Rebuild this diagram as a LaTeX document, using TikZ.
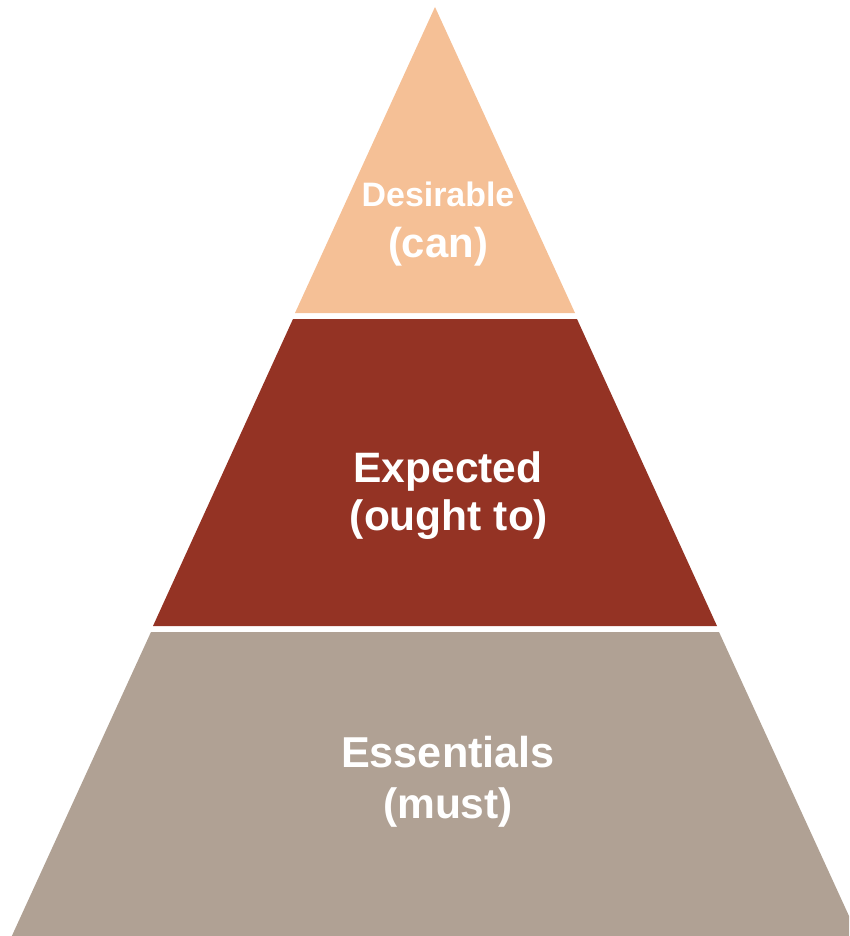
\documentclass[tikz,border=0pt]{standalone}
\usepackage{fontspec}
\setmainfont{Liberation Sans}
\definecolor{canpeach}{RGB}{245,192,150}
\definecolor{oughtred}{RGB}{148,51,36}
\definecolor{mustgrey}{RGB}{176,161,148}
\tikzset{
	tiertext/.style={text=white, font=\bfseries, anchor=base, inner sep=0pt}
}
\def\px#1{\fontsize{#1}{#1}\selectfont}

\begin{document}
\begin{tikzpicture}[x=0.02cm, y=-0.02cm]
		%%%%% START %%%%%
		
		\useasboundingbox (0, 0) rectangle (849, 936);
		\clip (0, 0) rectangle (849, 936);
		
		\draw[fill=canpeach, draw=none] (435, 7) -- (575, 313) -- (295, 313) -- cycle;
		\draw[fill=oughtred, draw=none] (293, 319) -- (577, 319) -- (717, 626) -- (153, 626) -- cycle;
		\draw[fill=mustgrey, draw=none] (151, 632) -- (719, 632) -- (860, 940) -- (10, 940) -- cycle;
		
		\node[tiertext, font=\bfseries\px{19.3pt}] (desirable) at (438, 206) {Desirable};
		\node[tiertext, font=\bfseries\px{23.8pt}] (can) at (438, 257) {(can)};
		
		\node[tiertext, font=\bfseries\px{24.2pt}] (expected) at (448, 482) {Expected};
		\node[tiertext, font=\bfseries\px{24.2pt}] (oughtto) at (449, 530) {(ought to)};
		
		\node[tiertext, font=\bfseries\px{24.6pt}] (essentials) at (448, 767) {Essentials};
		\node[tiertext, font=\bfseries\px{24.2pt}] (must) at (448, 818) {(must)};
		
		%%%%% END %%%%%
	\end{tikzpicture}
\end{document}
